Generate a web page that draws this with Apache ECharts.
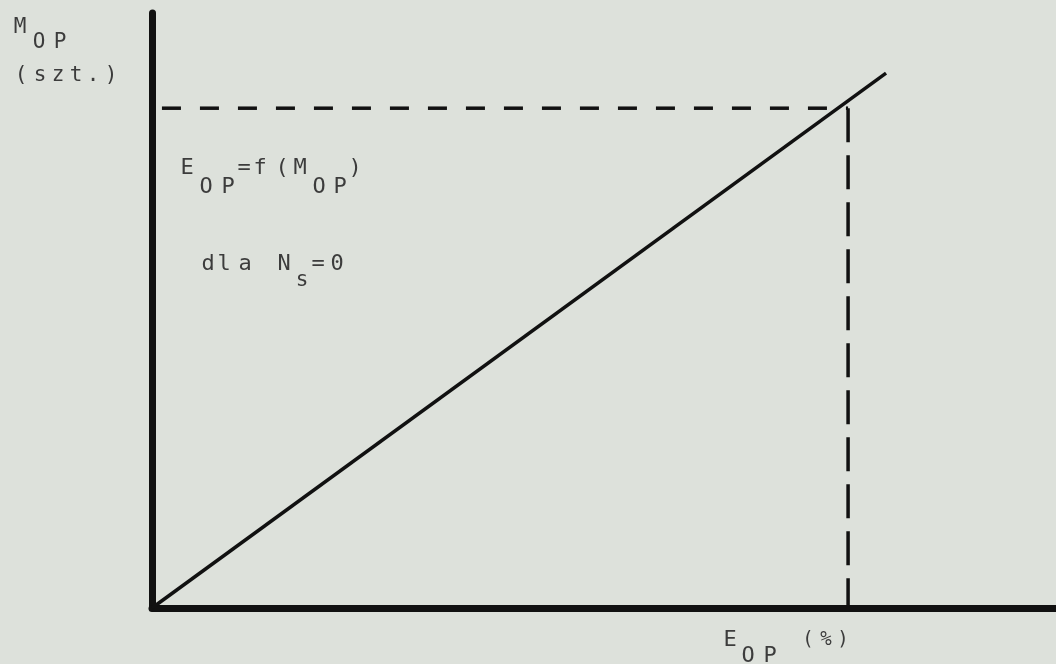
<!DOCTYPE html>
<html>
<head>
<meta charset="utf-8">
<script src="https://cdn.jsdelivr.net/npm/echarts@6/dist/echarts.min.js"></script>
<style>
  html, body { margin: 0; padding: 0; background: #dde1db; }
  #chart { width: 1056px; height: 664px; }
</style>
</head>
<body>
<div id="chart"></div>
<script>
// wartosci (skala umowna 0..100)
var axisMax = [100, 100];
var lineE = [0, 81.2];      // E_OP
var lineM = [0, 89.9];      // M_OP
var markE = 77.0;           // punkt odczytu
var markM = 84.0;
var dashStartE = 1.1;

var ink = '#111';
var txtColor = '#3c3c3c';
var font = '"DejaVu Sans Mono", "Liberation Mono", monospace';

// tekst "drukarki" - kazdy znak w osobnej komorce (xs = srodki znakow)
function txt(str, xs, y, size) {
  var out = [];
  for (var i = 0; i < str.length; i++) {
    out.push({
      type: 'text', x: xs[i], y: y, silent: true,
      style: { text: str[i], fill: txtColor, font: size + 'px ' + font,
               textAlign: 'center', textVerticalAlign: 'middle' }
    });
  }
  return out;
}

var labels = [].concat(
  txt('M', [20], 28, 21),
  txt('OP', [39, 60], 43, 21),
  txt('(szt.)', [21, 40, 58, 76, 93, 111], 76, 21),
  txt('E', [187], 168, 22),
  txt('OP', [206, 228], 187, 22),
  txt('=f(M', [244, 260, 282, 300], 168, 22),
  txt('OP', [319, 340], 187, 22),
  txt(')', [355], 168, 22),
  txt('dla', [208, 224, 245], 264, 22),
  txt('N', [284], 264, 22),
  txt('s', [302], 281, 21),
  txt('=0', [318, 337], 264, 22),
  txt('E', [730], 640, 22),
  txt('OP', [748, 770], 656, 22),
  txt('(%)', [808, 826, 843], 640, 19)
);

var chart = echarts.init(document.getElementById('chart'));

var option = {
  backgroundColor: '#dde1db',
  animation: false,
  grid: { left: 152, right: 0, top: 13, bottom: 56 },
  xAxis: {
    type: 'value', min: 0, max: axisMax[0],
    axisLine: { show: true, onZero: false, lineStyle: { color: ink, width: 7 } },
    axisTick: { show: false }, axisLabel: { show: false }, splitLine: { show: false }
  },
  yAxis: {
    type: 'value', min: 0, max: axisMax[1],
    axisLine: { show: true, onZero: false, lineStyle: { color: ink, width: 7 } },
    axisTick: { show: false }, axisLabel: { show: false }, splitLine: { show: false }
  },
  series: [
    {
      type: 'line', silent: true, showSymbol: false, clip: false,
      data: [[lineE[0], lineM[0]], [lineE[1], lineM[1]]],
      lineStyle: { color: ink, width: 3.5 }
    },
    {
      type: 'line', silent: true, showSymbol: false, clip: false,
      data: [[dashStartE, markM], [markE, markM]],
      lineStyle: { color: ink, width: 3.5, type: [19, 19] }
    },
    {
      type: 'line', silent: true, showSymbol: false, clip: false,
      data: [[markE, markM], [markE, 0]],
      lineStyle: { color: ink, width: 3.5, type: [34, 13] }
    }
  ],
  graphic: labels
};

chart.setOption(option);
</script>
</body>
</html>
